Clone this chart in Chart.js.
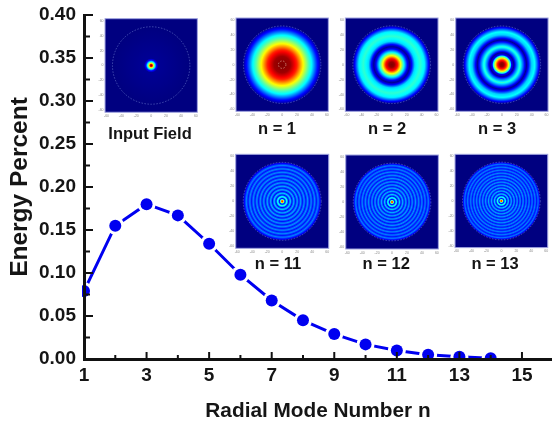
<!DOCTYPE html>
<html>
<head>
<meta charset="utf-8">
<title>Energy Percent vs Radial Mode Number</title>
<script src="https://cdn.jsdelivr.net/npm/chart.js@4"></script>
<style>
  html, body { margin: 0; padding: 0; background: #fff; }
  canvas { display: block; filter: blur(0.45px); }
</style>
</head>
<body>
<canvas id="energyChart" width="552" height="427"></canvas>
<script>
// Values
const radialModes = [1, 2, 3, 4, 5, 6, 7, 8, 9, 10, 11, 12, 13, 14];
const energyPercent = [0.079, 0.155, 0.180, 0.167, 0.134, 0.098, 0.068, 0.045, 0.029, 0.017, 0.010, 0.005, 0.0025, 0.001];
const xTickLabels = ['1', '3', '5', '7', '9', '11', '13', '15'];
const yTickLabels = ['0.00', '0.05', '0.10', '0.15', '0.20', '0.25', '0.30', '0.35', '0.40'];
const insetTicks = [-60, -40, -20, 0, 20, 40, 60];

// Radial profiles of the inset fields: pairs of radius, colour level (0 to 1)
const profileInput = [[0, 1], [1.5, 0.9], [3, 0.62], [5, 0.38], [7, 0.14], [9.5, 0.02], [52, 0]];
const profileN1 = [[0, 1], [11, 0.97], [20, 0.84], [28, 0.63], [35, 0.46], [40, 0.36], [47, 0.15], [52, 0.03]];
const profileN2 = [[0, 1], [3.5, 0.98], [8, 0.86], [12, 0.62], [16, 0.4], [21, 0.12], [24, 0.02], [27, 0.13], [31, 0.34], [38, 0.42], [44, 0.36], [49, 0.14], [52, 0.02]];
const profileN3 = [[0, 1], [3, 0.97], [6, 0.84], [9, 0.62], [11.5, 0.38], [13, 0.12], [16, 0.02], [19, 0.2], [24, 0.42], [29, 0.2], [33, 0.02], [36, 0.15], [40, 0.33], [44, 0.38], [48, 0.2], [52, 0.02]];
const profileN11 = [[0, 0.9], [1.5, 0.72], [3, 0.25], [3.8, 0.13], [6, 0.42], [8.3, 0.13], [10.8, 0.33], [13, 0.13], [15.4, 0.3], [17.6, 0.14], [20, 0.29], [22.2, 0.14], [24.6, 0.28], [26.9, 0.14], [29.2, 0.27], [31.5, 0.14], [33.9, 0.27], [36.2, 0.14], [38.6, 0.26], [40.9, 0.14], [43.2, 0.26], [45.5, 0.14], [47.8, 0.25], [50.3, 0.13], [52, 0.05]];
const profileN12 = [[0, 0.9], [1.4, 0.72], [2.8, 0.25], [3.5, 0.13], [5.6, 0.42], [7.7, 0.13], [10, 0.33], [12, 0.13], [14.2, 0.3], [16.3, 0.14], [18.5, 0.29], [20.6, 0.14], [22.8, 0.28], [24.9, 0.14], [27, 0.27], [29.2, 0.14], [31.4, 0.27], [33.5, 0.14], [35.7, 0.26], [37.9, 0.14], [40, 0.26], [42.1, 0.14], [44.3, 0.25], [46.5, 0.14], [48.6, 0.25], [50.7, 0.13], [52, 0.05]];
const profileN13 = [[0, 0.9], [1.3, 0.72], [2.6, 0.25], [3.3, 0.13], [5.2, 0.42], [7.2, 0.13], [9.3, 0.33], [11.2, 0.13], [13.2, 0.3], [15.2, 0.14], [17.2, 0.29], [19.1, 0.14], [21.1, 0.28], [23.1, 0.14], [25.1, 0.27], [27.1, 0.14], [29.1, 0.27], [31.1, 0.14], [33.1, 0.26], [35.1, 0.14], [37.1, 0.26], [39.1, 0.14], [41.1, 0.25], [43.1, 0.14], [45.1, 0.25], [47.1, 0.14], [49.1, 0.24], [51, 0.12], [52, 0.05]];

// Where the insets sit, in the units of the main axes
const insets = [
  { label: 'Input Field', profile: profileInput, x0: 1.672, x1: 4.623, y0: 0.3957, y1: 0.2869, capX: 3.11, capY: 0.2615, capSize: 16.5 },
  { label: 'n = 1', profile: profileN1, x0: 5.859, x1: 8.810, y0: 0.3965, y1: 0.288, capX: 7.17, capY: 0.2674, capSize: 16.5, core: 5 },
  { label: 'n = 2', profile: profileN2, x0: 9.354, x1: 12.317, y0: 0.3965, y1: 0.288, capX: 10.69, capY: 0.2674, capSize: 16.5 },
  { label: 'n = 3', profile: profileN3, x0: 12.883, x1: 15.834, y0: 0.3965, y1: 0.288, capX: 14.205, capY: 0.2674, capSize: 16.5 },
  { label: 'n = 11', profile: profileN11, x0: 5.850, x1: 8.823, y0: 0.238, y1: 0.1287, capX: 7.20, capY: 0.1095, capSize: 16.5 },
  { label: 'n = 12', profile: profileN12, x0: 9.367, x1: 12.327, y0: 0.2372, y1: 0.1279, capX: 10.66, capY: 0.1095, capSize: 16.5 },
  { label: 'n = 13', profile: profileN13, x0: 12.86, x1: 15.824, y0: 0.238, y1: 0.1295, capX: 14.14, capY: 0.1095, capSize: 16.5 }
];

const fontFamily = '"Liberation Sans", Arial, sans-serif';
const textColor = '#151515';
const axisRange = 62; // inset axes run a little past +-60

// MATLAB style jet colour map
function jet(v) {
  const c = t => Math.round(255 * Math.max(0, Math.min(1, t)));
  return `rgb(${c(1.5 - Math.abs(4 * v - 3))},${c(1.5 - Math.abs(4 * v - 2))},${c(1.5 - Math.abs(4 * v - 1))})`;
}

function drawInset(ctx, inset, xScale, yScale) {
  const left = xScale.getPixelForValue(inset.x0);
  const right = xScale.getPixelForValue(inset.x1);
  const top = yScale.getPixelForValue(inset.y0);
  const bottom = yScale.getPixelForValue(inset.y1);
  const w = right - left;
  const h = bottom - top;
  const cx = left + w / 2;
  const cy = top + h / 2;
  const unit = w / (2 * axisRange);
  const outer = 52 * unit;

  ctx.save();
  ctx.fillStyle = jet(0);
  ctx.fillRect(left, top, w, h);

  // field, colour stops follow the radial profile
  const grad = ctx.createRadialGradient(cx, cy, 0, cx, cy, outer);
  const prof = inset.profile;
  for (let i = 0; i < prof.length - 1; i++) {
    const [r0, v0] = prof[i];
    const [r1, v1] = prof[i + 1];
    for (let s = 0; s < 6; s++) {
      const t = s / 6;
      grad.addColorStop((r0 + (r1 - r0) * t) / 52, jet(v0 + (v1 - v0) * t));
    }
  }
  grad.addColorStop(1, jet(prof[prof.length - 1][1]));
  ctx.fillStyle = grad;
  ctx.beginPath();
  ctx.arc(cx, cy, outer, 0, Math.PI * 2);
  ctx.fill();

  // dotted aperture circle
  ctx.strokeStyle = 'rgba(150,170,235,0.6)';
  ctx.lineWidth = 0.7;
  ctx.setLineDash([1.5, 1.5]);
  ctx.beginPath();
  ctx.arc(cx, cy, outer, 0, Math.PI * 2);
  ctx.stroke();
  if (inset.core) {
    ctx.strokeStyle = 'rgba(230,190,170,0.8)';
    ctx.beginPath();
    ctx.arc(cx, cy, inset.core * unit, 0, Math.PI * 2);
    ctx.stroke();
  }
  ctx.setLineDash([]);

  // frame
  ctx.strokeStyle = '#9fa3e0';
  ctx.lineWidth = 1;
  ctx.strokeRect(left, top, w, h);

  // tiny tick labels
  ctx.fillStyle = '#8a8a8a';
  ctx.font = '3.5px ' + fontFamily;
  insetTicks.forEach(t => {
    ctx.textAlign = 'center';
    ctx.textBaseline = 'top';
    ctx.fillText(String(t), cx + t * unit, bottom + 2);
    ctx.textAlign = 'right';
    ctx.textBaseline = 'middle';
    ctx.fillText(String(t), left - 1.5, cy - t * unit);
  });

  // caption
  ctx.fillStyle = textColor;
  ctx.font = 'bold ' + inset.capSize + 'px ' + fontFamily;
  ctx.textAlign = 'center';
  ctx.textBaseline = 'middle';
  ctx.fillText(inset.label, xScale.getPixelForValue(inset.capX), yScale.getPixelForValue(inset.capY));
  ctx.restore();
}

// Inward ticks, as Chart.js only draws them outward, and the inset images
const insetPlugin = {
  id: 'insetPlugin',
  afterDraw(chart) {
    const { ctx, scales: { x, y } } = chart;
    ctx.save();
    ctx.strokeStyle = '#111';
    ctx.lineWidth = 2;
    x.ticks.forEach(t => {
      const px = x.getPixelForValue(t.value);
      ctx.beginPath();
      ctx.moveTo(px, x.top);
      ctx.lineTo(px, x.top - (t.label ? 7 : 4));
      ctx.stroke();
    });
    y.ticks.forEach(t => {
      const py = y.getPixelForValue(t.value);
      ctx.beginPath();
      ctx.moveTo(y.right, py);
      ctx.lineTo(y.right + (t.label ? 9 : 6), py);
      ctx.stroke();
    });
    ctx.restore();
    insets.forEach(inset => drawInset(ctx, inset, x, y));
  }
};

const points = radialModes.map((n, i) => ({ x: n, y: energyPercent[i] }));
const markerClip = { left: 2, right: 20, top: 20, bottom: 0 };

new Chart(document.getElementById('energyChart').getContext('2d'), {
  type: 'line',
  data: {
    datasets: [
      // markers on top
      {
        data: points,
        showLine: false,
        order: 1,
        clip: markerClip,
        pointRadius: 6,
        pointBackgroundColor: '#0000f0',
        pointBorderWidth: 0
      },
      // line, with white discs that leave a gap around each marker
      {
        data: points,
        order: 2,
        clip: markerClip,
        borderColor: '#0000f0',
        borderWidth: 3,
        tension: 0,
        pointRadius: 9,
        pointBackgroundColor: '#fff',
        pointBorderWidth: 0
      }
    ]
  },
  options: {
    responsive: false,
    animation: false,
    layout: { autoPadding: false, padding: { top: 15, right: 0, left: 0, bottom: 0 } },
    plugins: { legend: { display: false }, tooltip: { enabled: false } },
    scales: {
      x: {
        type: 'linear',
        min: 1,
        max: 15.96,
        afterFit: scale => {
          scale.height = 68;
          scale.paddingLeft = 0;
          scale.paddingRight = 0;
        },
        grid: { display: false, drawTicks: false },
        border: { display: true, color: '#111', width: 3, z: 1 },
        ticks: {
          stepSize: 1,
          includeBounds: false,
          autoSkip: false,
          maxRotation: 0,
          padding: 5,
          color: textColor,
          font: { family: fontFamily, weight: 'bold', size: 19 },
          callback: v => (xTickLabels.includes(String(v)) ? String(v) : '')
        },
        title: {
          display: true,
          text: 'Radial Mode Number n',
          color: textColor,
          padding: { top: 10, bottom: 3 },
          font: { family: fontFamily, weight: 'bold', size: 20.8 }
        }
      },
      y: {
        min: 0,
        max: 0.4,
        afterFit: scale => {
          scale.width = 84;
          scale.paddingTop = 0;
          scale.paddingBottom = 0;
        },
        grid: { display: false, drawTicks: false },
        border: { display: true, color: '#111', width: 3, z: 1 },
        ticks: {
          stepSize: 0.025,
          autoSkip: false,
          padding: 8,
          color: textColor,
          font: { family: fontFamily, weight: 'bold', size: 19 },
          callback: v => (yTickLabels.includes(v.toFixed(2)) ? v.toFixed(2) : '')
        },
        title: {
          display: true,
          text: 'Energy Percent',
          color: textColor,
          padding: { top: 6, bottom: 0 },
          font: { family: fontFamily, weight: 'bold', size: 24.5 }
        }
      }
    }
  },
  plugins: [insetPlugin]
});
</script>
</body>
</html>
